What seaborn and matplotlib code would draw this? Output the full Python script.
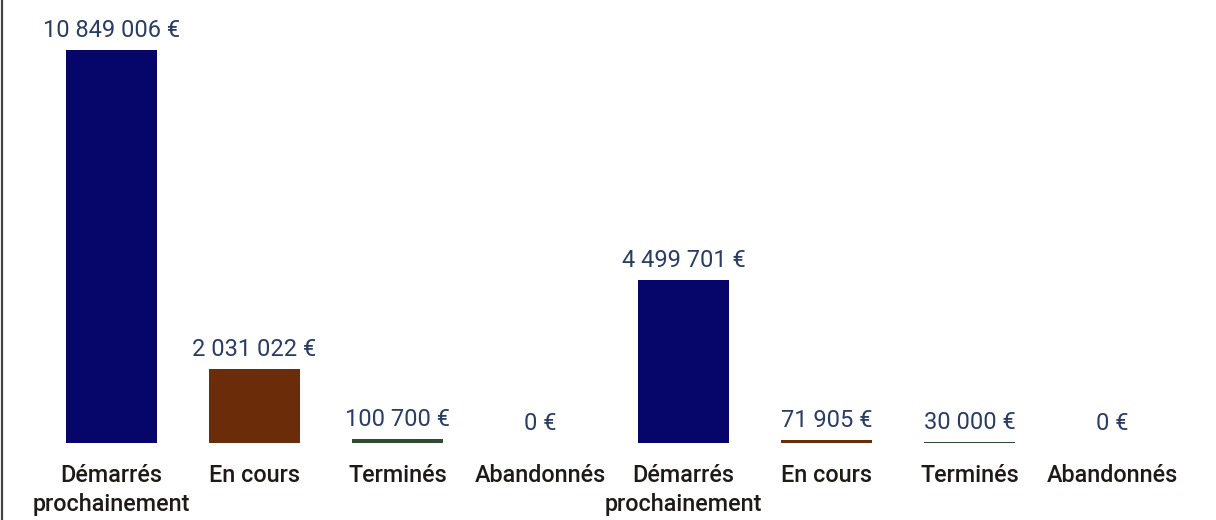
import pandas as pd
import matplotlib.pyplot as plt
import seaborn as sns
from matplotlib.lines import Line2D


# =========================================
# Data
# =========================================

statuts = ["Démarrés\nprochainement", "En cours", "Terminés", "Abandonnés"]

montants_groupe_1 = [10849006, 2031022, 100700, 0]
montants_groupe_2 = [4499701, 71905, 30000, 0]

couleurs = ["#06066a", "#6b2c0a", "#2f4b33", "#8c8c8c"]

df = pd.DataFrame({
    "slot": list(range(8)),
    "statut": statuts + statuts,
    "montant": montants_groupe_1 + montants_groupe_2,
})


# =========================================
# Plot
# =========================================

sns.set_theme(style="white")
plt.rcParams["font.family"] = ["Roboto", "DejaVu Sans"]

fig = plt.figure(figsize=(12.16, 5.2), dpi=100)
ax = fig.add_axes([40 / 1216, 77 / 520, 1144 / 1216, 443 / 520])

sns.barplot(
    data=df,
    x="slot",
    y="montant",
    hue="statut",
    palette=dict(zip(statuts, couleurs)),
    dodge=False,
    width=0.64,
    saturation=1,
    linewidth=0,
    legend=False,
    ax=ax,
)

ax.set_ylim(0, df["montant"].max() * 443 / 393)
ax.set_xlim(-0.5, 7.5)

for bar in ax.patches:
    val = int(round(bar.get_height()))
    txt = f"{val:,}".replace(",", " ") + " €"
    ax.annotate(
        txt,
        (bar.get_x() + bar.get_width() / 2, bar.get_height()),
        xytext=(0, 9.5),
        textcoords="offset points",
        ha="center",
        va="baseline",
        fontsize=17,
        color="#2a3d63",
        annotation_clip=False,
    )

ax.set_xticks(range(8))
ax.set_xticklabels(df["statut"], fontsize=16.8, fontweight=500,
                   color="#1f1a17", linespacing=1.35)
ax.tick_params(axis="x", length=0, pad=15)
ax.set_yticks([])
ax.set_xlabel("")
ax.set_ylabel("")
sns.despine(ax=ax, left=True, bottom=True)

fig.add_artist(Line2D([0.0018, 0.0018], [0, 1], transform=fig.transFigure,
                      color="#444444", linewidth=1.6))

fig.savefig("out.png", dpi=100)
